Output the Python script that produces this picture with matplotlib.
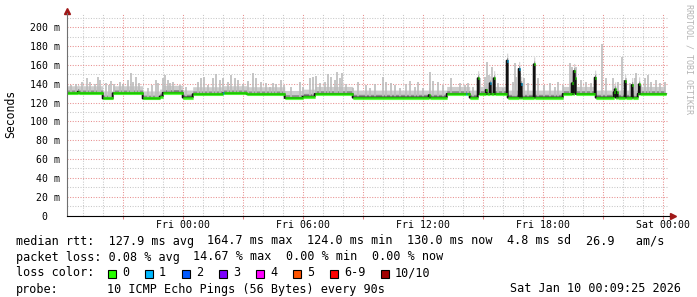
import numpy as np
import matplotlib.pyplot as plt
from matplotlib.patches import Rectangle
from matplotlib.ticker import MultipleLocator

# time axis in hours, 0 = Fri 00:00 ; one rrd row every 3 minutes
t_first, t_last, row = -5.8, 24.15, 0.05

# median rtt plateaus (start hour, ms)
plateau_start = [-5.8, -4.03, -3.5, -2.03, -1.17, -1.0, 0.0, 0.47, 2.0, 3.17, 5.08,
                 6.0, 6.58, 8.5, 13.17, 14.33, 14.75, 16.2, 19.0, 20.6, 22.75]
plateau_ms = [130.0, 124.5, 130.0, 124.5, 126.5, 130.5, 125.5, 129.0, 130.0, 129.0, 125.0,
              126.4, 129.3, 125.4, 129.3, 125.4, 129.3, 125.4, 129.3, 125.4, 129.3]

# single rows where the median jumps (hour, ms, loss colour index)
peak_h = [-5.25, 2.0, 12.3, 14.17, 14.75, 15.17, 15.37, 15.57, 16.2, 16.78, 16.92,
          17.57, 19.45, 19.55, 19.6, 20.6, 21.57, 21.62, 21.7, 22.1, 22.45, 22.8]
peak_ms = [131.5, 130.0, 128.0, 129.3, 146.0, 133.5, 140.6, 146.0, 164.7, 155.9, 140.0,
           160.8, 140.6, 153.7, 146.0, 146.6, 131.0, 134.2, 131.0, 143.0, 138.8, 139.5]
peak_loss = [0, 1, 0, 1, 0, 0, 1, 0, 1, 1, 1,
             0, 0, 0, 0, 0, 0, 0, 0, 0, 0, 0]

# smoke: slowest ping of the visible spikes (hour, ms)
smoke_h = [-5.59, -5.34, -5.04, -4.80, -4.64, -4.42, -4.25, -4.17, -3.87, -3.70,
           -3.59, -3.47, -3.17, -3.00, -2.75, -2.59, -2.50, -2.34, -2.20, -1.75,
           -1.54, -1.37, -1.25, -1.00, -0.89, -0.75, -0.64, -0.50, -0.17, 0.17,
           0.75, 0.92, 1.03, 1.25, 1.50, 1.67, 1.83, 2.00, 2.25, 2.42,
           2.58, 2.75, 3.00, 3.25, 3.50, 3.67, 3.92, 4.17,
           4.33, 4.50, 4.63, 4.92, 5.03, 5.42, 5.83, 6.00, 6.33, 6.50,
           6.67, 6.83, 7.08, 7.25, 7.42, 7.58, 7.70, 7.83, 7.97, 8.17,
           8.50, 8.75, 9.17, 9.33, 9.58, 10.00, 10.13, 10.42, 10.58, 10.83,
           11.17, 11.33, 11.58, 11.75, 12.00, 12.33, 12.50, 12.75, 13.00, 13.42,
           13.83, 14.08,
           14.25, 14.50, 14.83, 15.08, 15.20, 15.30, 15.47, 15.75, 16.00, 16.50,
           16.58, 16.67, 16.87, 17.03, 17.25, 17.75, 18.03, 18.33, 18.58, 18.75,
           19.00, 19.37, 19.47, 19.67, 19.92, 20.17, 20.42, 20.95, 21.17, 21.50,
           21.75, 21.95, 22.17, 22.33, 22.58, 22.67, 22.92, 23.08, 23.25, 23.42,
           23.67, 23.83, 24.08]
smoke_ms = [138.8, 139.5, 141.7, 145.9, 142.4, 139.5, 147.0, 144.1, 140.6, 138.8,
            143.1, 139.5, 142.4, 139.5, 144.1, 151.2, 142.4, 147.7, 140.6, 135.3,
            138.8, 144.1, 140.6, 145.9, 149.5, 144.1, 140.6, 142.4, 138.8, 137.1,
            142.4, 145.9, 147.7, 138.8, 145.9, 150.2, 144.1, 145.9, 142.4, 149.5,
            145.9, 144.1, 139.5, 143.1, 151.2, 145.9, 141.7, 140.6,
            137.1, 140.6, 139.5, 144.1, 138.8, 137.1, 142.4, 137.1, 145.9, 147.7,
            148.4, 140.6, 142.4, 150.2, 147.7, 144.1, 153.0, 145.9, 151.2, 139.5,
            135.3, 142.4, 138.8, 136.0, 139.5, 147.7, 142.4, 140.6, 138.8, 136.0,
            139.5, 143.1, 137.1, 142.4, 135.3, 153.0, 143.1, 142.4, 138.8, 145.9,
            140.6, 138.8,
            140.6, 137.1, 145.9, 147.7, 163.6, 149.5, 158.3, 140.6, 135.3, 142.4,
            161.9, 147.7, 151.2, 145.9, 140.6, 145.9, 138.8, 140.6, 137.1, 142.4,
            138.8, 161.9, 158.3, 158.3, 144.1, 142.4, 140.6, 182.0, 145.9, 145.9,
            142.4, 169.0, 145.9, 140.6, 145.9, 151.2, 138.8, 145.9, 149.5, 142.4,
            144.1, 140.6, 142.4]
haze_ms = 8.0   # usual spread of the pings above the median
dark_ms = 3.5

loss_names = ['0', '1', '2', '3', '4', '5', '6-9', '10/10']
loss_colors = ['#26ff00', '#00b8ff', '#0059ff', '#7e00ff', '#ff00ff', '#ff5500', '#ff0000', '#a00000']

x_ticks = [0, 6, 12, 18, 24]
x_labels = ['Fri 00:00', 'Fri 06:00', 'Fri 12:00', 'Fri 18:00', 'Sat 00:00']

rtt_items = ['median rtt:  127.9 ms avg', '164.7 ms max', '124.0 ms min', '130.0 ms now',
             '4.8 ms sd', '26.9   am/s']
loss_items = ['packet loss: 0.08 % avg', '14.67 % max', '0.00 % min', '0.00 % now']
probe_text = '10 ICMP Echo Pings (56 Bytes) every 90s'
stamp = 'Sat Jan 10 00:09:25 2026'

# build the rrd rows
t = np.arange(t_first, t_last, row)
med = np.zeros_like(t)
for s, v in zip(plateau_start, plateau_ms):
    med[t >= s - 1e-9] = v
loss = np.zeros(len(t), dtype=int)
for h, v, l in zip(peak_h, peak_ms, peak_loss):
    i = np.argmin(np.abs(t - h))
    med[i] = v
    loss[i] = l

W, H = 697, 297
plt.rcParams['font.family'] = 'DejaVu Sans Mono'
fs = 8.45      # legend font, ~7 px per character
cw = 7.0
gap = 16

fig = plt.figure(figsize=(W / 100, H / 100), dpi=100)
ax = fig.add_axes([66.5 / W, (H - 215.5) / H, 602 / W, 202.5 / H])
ax.set_xlim((66.5 - 182.7) / 20, (668.5 - 182.7) / 20)
ax.set_ylim(0, 215.4)

# smoke
ax.fill_between(t, med, med + haze_ms, step='post', color='#cdcdcd', lw=0)
idx = [np.argmin(np.abs(t - h)) for h in smoke_h]
ax.vlines(t[idx] + row / 2, med[idx], smoke_ms, colors='#bcbcbc', lw=1.2)
ax.fill_between(t, med, med + dark_ms, step='post', color='#8e8e8e', lw=0)

# median: black step underneath, loss coloured on top
ax.step(np.append(t, t[-1] + row), np.append(med, med[-1]), where='post', color='#111111', lw=1.4)
ax.hlines(med, t, t + row, colors=[loss_colors[l] for l in loss], lw=2.2)

# grid
ax.xaxis.set_major_locator(MultipleLocator(3))
ax.xaxis.set_minor_locator(MultipleLocator(1))
ax.yaxis.set_major_locator(MultipleLocator(20))
ax.yaxis.set_minor_locator(MultipleLocator(10))
ax.grid(which='minor', color='#c8c8c8', linestyle=(0, (1, 1.5)), lw=0.75)
ax.grid(which='major', color='#e89090', linestyle=(0, (1, 1.5)), lw=0.75)
ax.set_axisbelow(True)

xt = ax.get_xticks()
labels = []
for v in xt:
    k = int(round(v))
    labels.append(x_labels[x_ticks.index(k)] if k in x_ticks and abs(v - k) < 1e-6 else '')
ax.set_xticklabels(labels)
yt = np.arange(0, 201, 20)
ax.set_yticks(yt)
ax.set_yticklabels([f'{v} m' if v else '0  ' for v in yt])
ax.tick_params(axis='x', which='major', length=2, color='#e08080', pad=1.5, labelsize=7.1)
ax.tick_params(axis='x', which='minor', length=0)
ax.tick_params(axis='y', which='both', length=0, pad=4.6, labelsize=7.1)

for s in ['top', 'right']:
    ax.spines[s].set_visible(False)
ax.spines['left'].set_color('#707070')
ax.spines['left'].set_linewidth(0.8)
ax.spines['bottom'].set_color('#000000')
ax.spines['bottom'].set_linewidth(0.8)
ax.plot(0, 1 + 2.5 / 202.5, marker='^', ms=4.5, color='#a01818', transform=ax.transAxes, clip_on=False)
ax.plot(1 + 4 / 602, 0, marker='>', ms=4.5, color='#a01818', transform=ax.transAxes, clip_on=False)


def px(x, y):
    return x / W, 1 - y / H


fig.text(*px(11, 114), 'Seconds', rotation=90, ha='center', va='center', fontsize=8.3)
fig.text(*px(689, 4), 'RRDTOOL / TOBI OETIKER', rotation=270, ha='center', va='top',
         fontsize=6, color='#b4b4b4')

rows_y = [241, 257, 273, 289]
for y, items in zip(rows_y, [rtt_items, loss_items]):
    x = 16
    for s in items:
        fig.text(*px(x, y), s, ha='left', va='center', fontsize=fs)
        x += cw * len(s) + gap

fig.text(*px(16, rows_y[2]), 'loss color:', ha='left', va='center', fontsize=fs)
x = 108
for name, c in zip(loss_names, loss_colors):
    fig.patches.append(Rectangle(px(x, rows_y[2] + 4.5), 8 / W, 8 / H, transform=fig.transFigure,
                                 facecolor=c, edgecolor='black', lw=0.8))
    fig.text(*px(x + 14, rows_y[2]), name, ha='left', va='center', fontsize=fs)
    x += 30 + 7 * len(name)
fig.text(*px(16, rows_y[3]), 'probe:', ha='left', va='center', fontsize=fs)
fig.text(*px(107, rows_y[3]), probe_text, ha='left', va='center', fontsize=fs)
fig.text(*px(681, rows_y[3]), stamp, ha='right', va='center', fontsize=fs)

fig.savefig('out.png', dpi=100, facecolor='white')
